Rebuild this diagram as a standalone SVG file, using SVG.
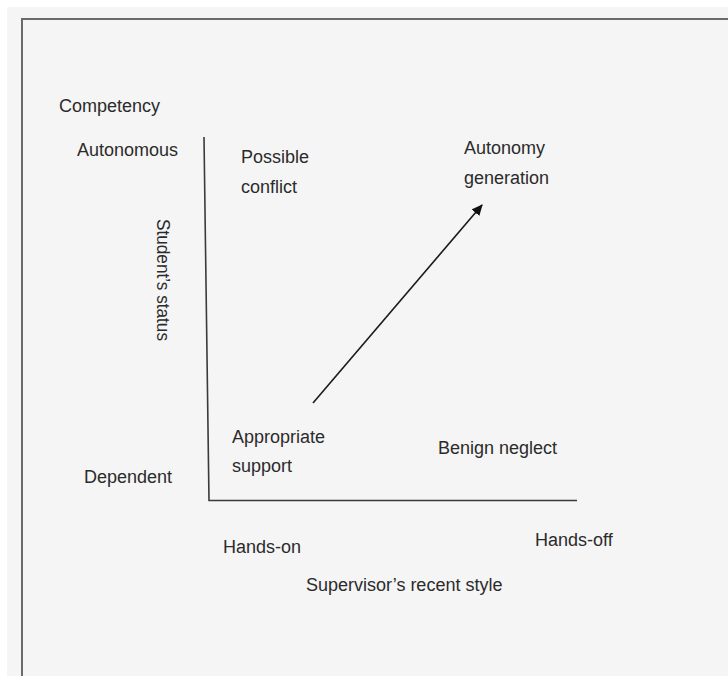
<svg xmlns="http://www.w3.org/2000/svg" width="728" height="676" viewBox="0 0 728 676">
  <style>
    .lbl { font-family: "Liberation Sans", Arial, sans-serif; font-size: 18px; fill: #2b2b2b; }
    .axis { stroke: #3a3a3a; stroke-width: 1.6; fill: none; }
    .frame { stroke: #6a6a6a; stroke-width: 2; fill: none; }
  </style>
  <defs>
    <marker id="arrowhead" viewBox="0 0 10 10" refX="9" refY="5" markerWidth="7" markerHeight="7" orient="auto" markerUnits="strokeWidth">
      <path d="M0,0.5 L10,5 L0,9.5 z" fill="#111"/>
    </marker>
  </defs>

  <!-- page background and frame -->
  <rect x="0" y="0" width="728" height="676" fill="#ffffff"/>
  <rect x="7" y="7" width="721" height="669" fill="#f5f5f5"/>
  <path class="frame" d="M22,676 L22,19 L728,19"/>

  <!-- axes and trend arrow -->
  <g id="connectors">
    <path class="axis" d="M204,137 L209,500.5 L577,500.5"/>
    <line x1="313" y1="403" x2="482" y2="205" stroke="#1a1a1a" stroke-width="1.6" marker-end="url(#arrowhead)"/>
  </g>

  <g id="y-axis-title"><text class="lbl" x="59" y="112">Competency</text></g>
  <g id="y-high"><text class="lbl" x="77" y="156">Autonomous</text></g>
  <g id="y-low"><text class="lbl" x="84" y="483">Dependent</text></g>
  <g id="y-axis-label"><text class="lbl" transform="translate(157,219) rotate(90)" textLength="122" lengthAdjust="spacingAndGlyphs">Student’s status</text></g>

  <g id="possible-conflict">
    <text class="lbl" x="241" y="163">Possible</text>
    <text class="lbl" x="241" y="193">conflict</text>
  </g>
  <g id="autonomy-generation">
    <text class="lbl" x="464" y="154">Autonomy</text>
    <text class="lbl" x="464" y="184">generation</text>
  </g>
  <g id="appropriate-support">
    <text class="lbl" x="232" y="443">Appropriate</text>
    <text class="lbl" x="232" y="472">support</text>
  </g>
  <g id="benign-neglect"><text class="lbl" x="438" y="454">Benign neglect</text></g>

  <g id="x-low"><text class="lbl" x="223" y="553">Hands-on</text></g>
  <g id="x-high"><text class="lbl" x="535" y="546">Hands-off</text></g>
  <g id="x-axis-label"><text class="lbl" x="306" y="591">Supervisor’s recent style</text></g>
</svg>
